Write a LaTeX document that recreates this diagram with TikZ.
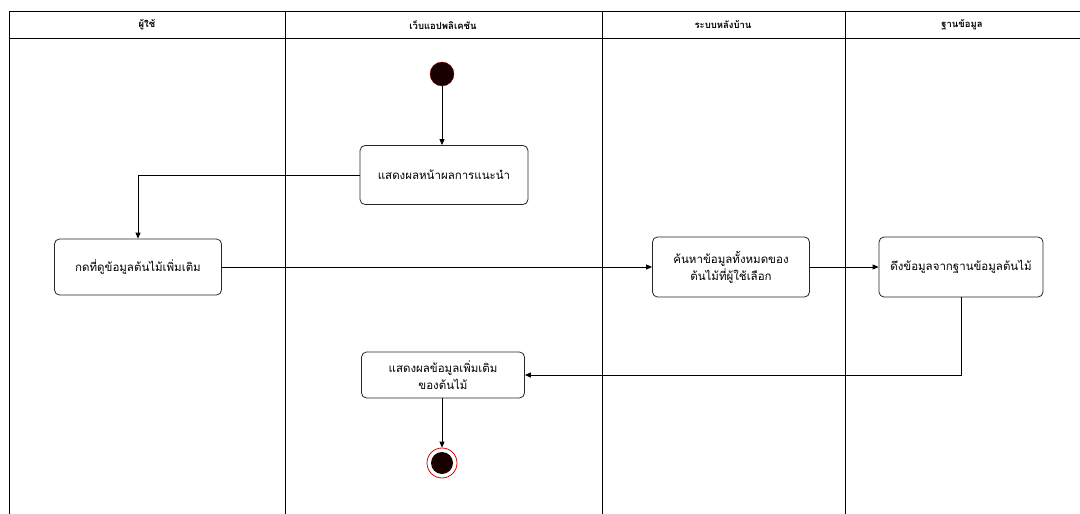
\documentclass[tikz,border=0pt]{standalone}
\usepackage{fontspec}
\newfontfamily\thaifont[Script=Thai]{Loma}
\usetikzlibrary{arrows.meta,positioning}
\begin{document}
\begin{tikzpicture}[x=1pt,y=-1pt,
  lane/.style={line width=0.9pt,draw=black},
  act/.style={draw=black!85,line width=0.8pt,rounded corners=5pt,fill=white,align=center,font=\thaifont\fontsize{11.5}{17}\selectfont,inner sep=0pt},
  hdr/.style={font=\thaifont\bfseries\fontsize{9.5}{11}\selectfont,anchor=center},
  flow/.style={draw=black,line width=0.8pt,-{Triangle[length=6pt,width=5pt]}}
]
\useasboundingbox (0,0) rectangle (1080,514);
\fill[white] (0,0) rectangle (1080,514);
% swimlane frame
\draw[lane] (9,514) -- (9,11) -- (1080,11);
\draw[lane] (9,38) -- (1080,38);
\draw[lane] (285,11) -- (285,514);
\draw[lane] (602,11) -- (602,514);
\draw[lane] (845,11) -- (845,514);
\node[hdr] (h1) at (147,25) {ผู้ใช้};
\node[hdr] (h2) at (443,25) {เว็บแอปพลิเคชัน};
\node[hdr] (h3) at (723,25) {ระบบหลังบ้าน};
\node[hdr] (h4) at (962,25) {ฐานข้อมูล};
% start
\node[circle,fill=black!90!red,draw=red!60!black,line width=0.4pt,minimum size=24pt,inner sep=0pt] (start) at (442,74) {};
% activities
\node[act,minimum width=168pt,minimum height=59pt] (a1) at (444,175) {แสดงผลหน้าผลการแนะนำ};
\node[act,minimum width=167pt,minimum height=56pt] (a2) at (138,267) {กดที่ดูข้อมูลต้นไม้เพิ่มเติม};
\node[act,minimum width=157pt,minimum height=60pt] (a3) at (731,267) {ค้นหาข้อมูลทั้งหมดของ\\ต้นไม้ที่ผู้ใช้เลือก};
\node[act,minimum width=164pt,minimum height=60pt] (a4) at (961,267) {ดึงข้อมูลจากฐานข้อมูลต้นไม้};
\node[act,minimum width=163pt,minimum height=46pt] (a5) at (443,375) {แสดงผลข้อมูลเพิ่มเติม\\ของต้นไม้};
% end
\node[circle,draw=red!85!black,line width=0.8pt,fill=white,minimum size=30pt,inner sep=0pt] (end) at (442,463) {};
\node[circle,fill=black!90!red,minimum size=22pt,inner sep=0pt] (endin) at (end.center) {};
% flows
\draw[flow] (start) -- (start |- a1.north);
\draw[flow] (a1.west) -| (a2.north);
\draw[flow] (a2.east) -- (a3.west);
\draw[flow] (a3.east) -- (a4.west);
\draw[flow] (a4.south) |- (a5.east);
\draw[flow] (a5.south -| end) -- (end.north);
\end{tikzpicture}
\end{document}
